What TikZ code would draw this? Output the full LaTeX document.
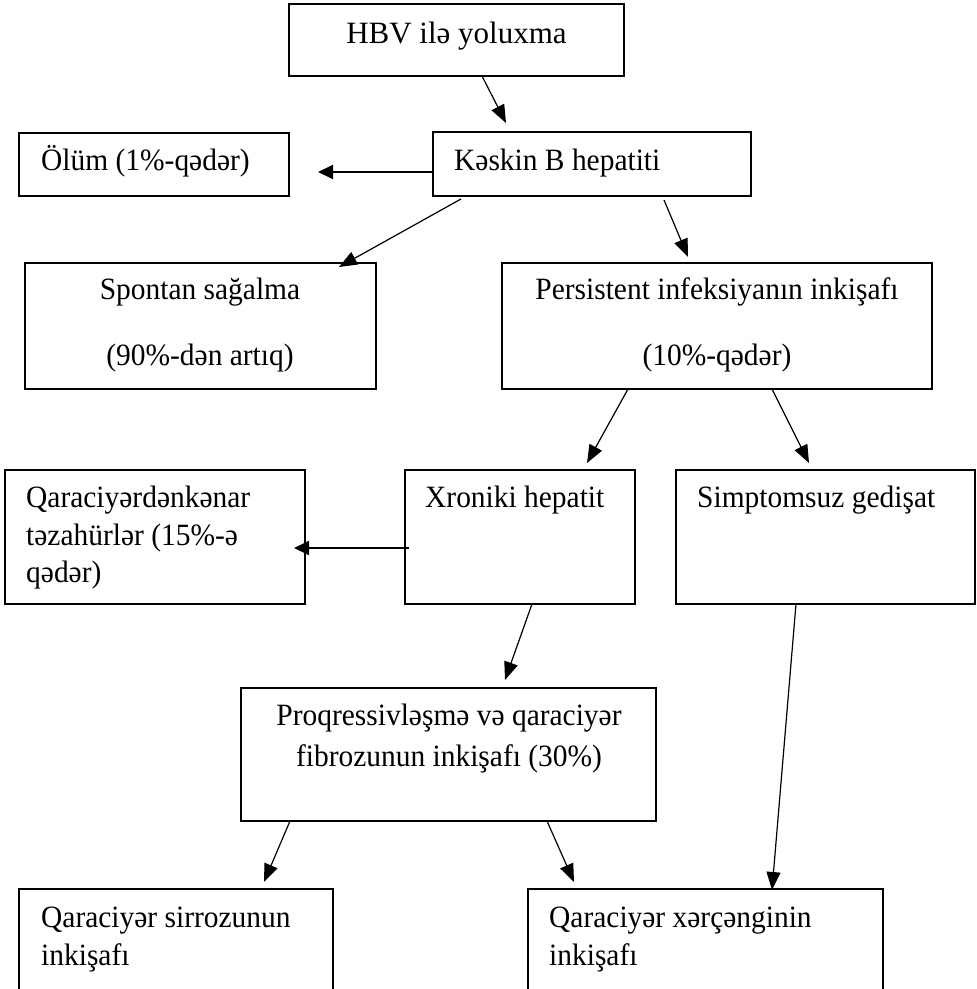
\documentclass[tikz,border=0pt]{standalone}
\usepackage{fontspec}
\setmainfont{Liberation Serif}[FakeStretch=0.95]
\newfontfamily\hbvfont{Liberation Serif}
\usetikzlibrary{arrows.meta,calc}
\begin{document}
\begin{tikzpicture}[x=1pt,y=-1pt,
  box/.style={draw, line width=2pt, inner sep=0pt, outer sep=0pt},
  txt/.style={inner sep=0pt, font=\fontsize{31}{40}\selectfont},
  arr/.style={line width=1.2pt, -{Triangle[length=18pt,width=14pt]}},
  harr/.style={line width=2pt, -{Triangle[length=15pt,width=14pt]}}]
\clip (0,0) rectangle (977,989);
\fill[white] (0,0) rectangle (977,989);
% boxes
\node[box, minimum width=335pt, minimum height=72pt] (hbv) at (456.5,40) {};
\node[box, minimum width=318pt, minimum height=64pt] (kes) at (592,164) {};
\node[box, minimum width=270pt, minimum height=63pt] (olum) at (154,164.5) {};
\node[box, minimum width=351pt, minimum height=126pt] (spon) at (200.5,326) {};
\node[box, minimum width=430pt, minimum height=126pt] (pers) at (717,326) {};
\node[box, minimum width=300pt, minimum height=134pt] (qkn) at (155,537) {};
\node[box, minimum width=230pt, minimum height=134pt] (xron) at (520,537) {};
\node[box, minimum width=299pt, minimum height=134pt] (simp) at (825.5,537) {};
\node[box, minimum width=415pt, minimum height=133pt] (proq) at (448.5,754.5) {};
\node[box, minimum width=314pt, minimum height=130pt] (sirr) at (176,954) {};
\node[box, minimum width=355pt, minimum height=130pt] (xerc) at (705.5,954) {};
% texts
\node[txt, anchor=base, font=\hbvfont\fontsize{31}{40}\selectfont] (t-hbv) at (456.5,43) {HBV ilə yoluxma};
\node[txt, anchor=base west] (t-kes) at (454,170) {Kəskin B hepatiti};
\node[txt, anchor=base west] (t-olum) at (41,170) {Ölüm (1\%-qədər)};
\node[txt, anchor=base] (t-spon1) at (200,299) {Spontan sağalma};
\node[txt, anchor=base] (t-spon2) at (200,365) {(90\%-dən artıq)};
\node[txt, anchor=base] (t-pers1) at (717,299) {Persistent infeksiyanın inkişafı};
\node[txt, anchor=base] (t-pers2) at (717,365) {(10\%-qədər)};
\node[txt, anchor=base west] (t-qkn1) at (26,507) {Qaraciyərdənkənar};
\node[txt, anchor=base west] (t-qkn2) at (26,545) {təzahürlər (15\%-ə};
\node[txt, anchor=base west] (t-qkn3) at (26,582) {qədər)};
\node[txt, anchor=base west] (t-xron) at (425,507) {Xroniki hepatit};
\node[txt, anchor=base west] (t-simp) at (697,507) {Simptomsuz gedişat};
\node[txt, anchor=base] (t-proq1) at (449,725) {Proqressivləşmə və qaraciyər};
\node[txt, anchor=base] (t-proq2) at (449,766) {fibrozunun inkişafı (30\%)};
\node[txt, anchor=base west] (t-sirr1) at (41,927) {Qaraciyər sirrozunun};
\node[txt, anchor=base west] (t-sirr2) at (41,965) {inkişafı};
\node[txt, anchor=base west] (t-xerc1) at (549,927) {Qaraciyər xərçənginin};
\node[txt, anchor=base west] (t-xerc2) at (549,965) {inkişafı};
% arrow tips
\coordinate (tip-kes) at (506,123);
\coordinate (tip-olum) at (318,172);
\coordinate (tip-spon) at (339,267);
\coordinate (tip-pers) at (688,257);
\coordinate (tip-xron) at (587,463);
\coordinate (tip-simp) at (809,463);
\coordinate (tip-qkn) at (294,548);
\coordinate (tip-proq) at (505,680);
\coordinate (tip-xerc2) at (772,890);
\coordinate (tip-sirr) at (264,882);
\coordinate (tip-xerc1) at (574,882);
% connectors
\draw[arr] ([xshift=25.5pt]hbv.south) -- (tip-kes);
\draw[harr] ([yshift=-8pt]kes.west) -- (tip-olum);
\draw[arr] ([xshift=-131pt,yshift=-3pt]kes.south) -- (tip-spon);
\draw[arr] ([xshift=72pt,yshift=-4pt]kes.south) -- (tip-pers);
\draw[arr] ([xshift=-89pt]pers.south) -- (tip-xron);
\draw[arr] ([xshift=55pt]pers.south) -- (tip-simp);
\draw[harr] ([xshift=4pt,yshift=-11pt]xron.west) -- (tip-qkn);
\draw[arr] ([xshift=12pt]xron.south) -- (tip-proq);
\draw[arr] ([xshift=-29.5pt]simp.south) -- (tip-xerc2);
\draw[arr] ([xshift=-158.5pt]proq.south) -- (tip-sirr);
\draw[arr] ([xshift=98.5pt]proq.south) -- (tip-xerc1);
\end{tikzpicture}
\end{document}
